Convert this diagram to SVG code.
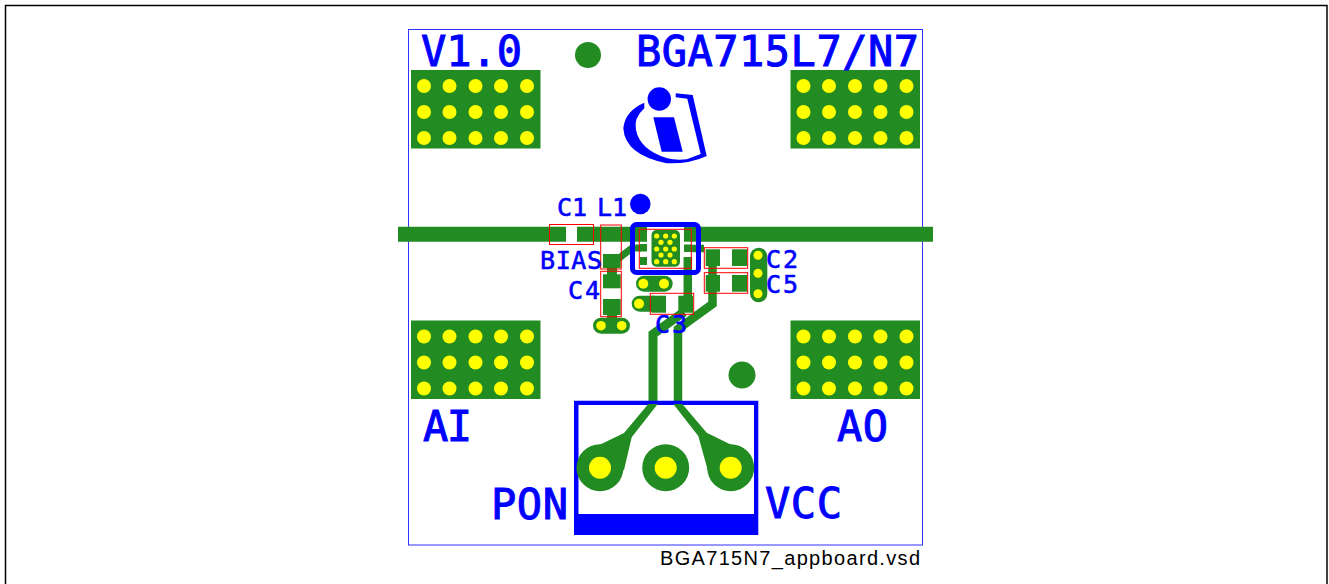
<svg xmlns="http://www.w3.org/2000/svg" xmlns:xlink="http://www.w3.org/1999/xlink" width="1329" height="584" viewBox="0 0 1329 584">
<style>
.g{fill:#228B22}
.y{fill:#FFFF00}
.b{fill:#0000FF}
.r{fill:none;stroke:#FF0000;stroke-width:1}
.tg{stroke:#228B22;fill:none}
.pcb{font-family:"DejaVu Sans Mono","Liberation Mono",monospace;fill:#0000FF;stroke:#0000FF;stroke-width:1}
.big{font-size:42px}
.sm{font-size:25px;stroke-width:.6}
.cap{font-family:"Liberation Sans",Arial,sans-serif;font-size:20px;fill:#000}
</style>
<defs>
<g id="block">
<rect class="g" x="0" y="0" width="129.500" height="78.500"/>
<g class="y">
<circle cx="13" cy="16" r="7"/><circle cx="38.500" cy="16" r="7"/><circle cx="64.500" cy="16" r="7"/><circle cx="90" cy="16" r="7"/><circle cx="116" cy="16" r="7"/>
<circle cx="13" cy="42" r="7"/><circle cx="38.500" cy="42" r="7"/><circle cx="64.500" cy="42" r="7"/><circle cx="90" cy="42" r="7"/><circle cx="116" cy="42" r="7"/>
<circle cx="13" cy="68" r="7"/><circle cx="38.500" cy="68" r="7"/><circle cx="64.500" cy="68" r="7"/><circle cx="90" cy="68" r="7"/><circle cx="116" cy="68" r="7"/>
</g>
</g>
</defs>
<g id="frames">
<path d="M5.500 584V5.500H1327V584" fill="none" stroke="#000" stroke-width="1.500"/>
<rect x="408.500" y="29.500" width="514" height="515.500" fill="#fff" stroke="#3030ff" stroke-width="1"/>
</g>
<g id="pad-blocks">
<use xlink:href="#block" href="#block" x="411" y="70"/>
<use xlink:href="#block" href="#block" x="790.500" y="70"/>
<use xlink:href="#block" href="#block" x="411" y="320.500"/>
<use xlink:href="#block" href="#block" x="790.500" y="320.500"/>
<circle class="g" cx="588" cy="55" r="13"/>
<circle class="g" cx="742" cy="375" r="13.500"/>
</g>
<g id="logo">
<circle class="b" cx="659.300" cy="99" r="11.700"/>
<polygon class="b" points="653.300,117.300 674,117.300 682.700,151.700 661.700,151.700"/>
<path class="b" d="M644.300 102.700Q625 111 623.300 128.300Q625 155 666.700 163.300Q690 164 706.700 156L692.700 95L675.700 93.300V97.300L687.300 98.700L700.700 154L686.700 159.300Q676 160.500 667.300 158.300Q640 150 636 130Q633.300 118.300 644.300 108.300Z"/>
</g>
<g id="connectors">
<path class="g" d="M398 226.700H566V241.700H398ZM577 226.700H647V241.700H577ZM684 226.700H933V241.700H684Z"/>
<rect class="g" x="640" y="244" width="7" height="7.500"/>
<rect class="g" x="640" y="257" width="7" height="8"/>
<rect class="g" x="684" y="244.500" width="8" height="7.500"/>
<rect class="g" x="684" y="257" width="8" height="8"/>
<path class="tg" stroke-width="7" d="M618 259L632 248H641"/>
<path class="tg" stroke-width="7.500" d="M691 248.500H704"/>
<path class="tg" stroke-width="8.500" d="M687.800 257V300"/>
<path class="tg" stroke-width="8.500" d="M712.500 260V304L678 329V404"/>
<path class="tg" stroke-width="9" d="M653 404V334L684 312"/>
<path class="tg" stroke-width="10" d="M612 262V282M612 308V326"/>
</g>
<g id="connector-j1">
<path class="b" d="M574 400.700H758.300V535H574ZM578.500 405V514H754V405Z" fill-rule="evenodd"/>
<polygon class="g" points="648.300,404 657.700,404 631.700,437.300 624,470 600,470 599.300,445 624,433"/>
<polygon class="g" points="673.300,404 682.300,404 706.700,432.700 731.700,445 731,470 707.700,470 698.300,436"/>
<circle class="g" cx="600" cy="467.700" r="23.500"/><circle class="y" cx="600" cy="467.700" r="11"/>
<circle class="g" cx="665.700" cy="467.700" r="23.500"/><circle class="y" cx="665.700" cy="467.700" r="11"/>
<circle class="g" cx="730.700" cy="467.700" r="23.500"/><circle class="y" cx="730.700" cy="467.700" r="11"/>
</g>
<g id="C1"><rect class="r" x="549.500" y="224.500" width="44" height="20"/></g>
<g id="L1"><rect class="g" x="603" y="254" width="17.700" height="14"/><rect class="r" x="600.700" y="225" width="20.600" height="44"/></g>
<g id="C4"><rect class="g" x="603" y="274.300" width="17.700" height="14"/><rect class="g" x="603" y="299" width="17.700" height="16"/><rect class="r" x="600.700" y="271.300" width="20.600" height="45.400"/></g>
<g id="via-pair-bias"><rect class="g" x="593" y="317.700" width="37" height="16" rx="8"/><circle class="y" cx="601" cy="325.700" r="4.800"/><circle class="y" cx="621.700" cy="325.700" r="4.800"/></g>
<g id="via-pair-mid"><rect class="g" x="636" y="275.700" width="36.700" height="16" rx="8"/><circle class="y" cx="643.300" cy="283.700" r="5"/><circle class="y" cx="664" cy="283.700" r="5"/></g>
<g id="C2"><rect class="g" x="705.700" y="249.300" width="14.300" height="16.700"/><rect class="g" x="732" y="249.300" width="15.300" height="16.700"/><rect class="r" x="704.300" y="247.700" width="43.400" height="20.600"/></g>
<g id="C5"><rect class="g" x="705.700" y="275" width="14.300" height="16.700"/><rect class="g" x="732" y="275" width="15.300" height="16.700"/><rect class="r" x="704.300" y="272.700" width="43.400" height="20.600"/></g>
<g id="via-column"><rect class="g" x="750" y="247.700" width="17.300" height="54.600" rx="8.600"/><circle class="y" cx="758" cy="255.300" r="4.500"/><circle class="y" cx="758" cy="273.300" r="4.500"/><circle class="y" cx="758" cy="293.700" r="4.500"/></g>
<g id="C3"><rect class="g" x="631.700" y="295.700" width="30" height="16" rx="8"/><circle class="y" cx="639" cy="303.700" r="5"/><rect class="g" x="651.300" y="295.700" width="14.700" height="17"/><rect class="g" x="678.300" y="295.700" width="14.700" height="17"/><rect class="r" x="650.300" y="293.300" width="43.400" height="21"/></g>
<g id="U1">
<rect class="g" x="651.500" y="230" width="28.500" height="36.700" rx="5"/>
<g class="y">
<circle cx="656.700" cy="236" r="2.600"/><circle cx="665.700" cy="236" r="2.600"/><circle cx="674.300" cy="236" r="2.600"/>
<circle cx="661" cy="242.300" r="2.600"/><circle cx="670" cy="242.300" r="2.600"/>
<circle cx="656.700" cy="249" r="2.600"/><circle cx="665.700" cy="249" r="2.600"/><circle cx="674.300" cy="249" r="2.600"/>
<circle cx="661" cy="255" r="2.600"/><circle cx="670" cy="255" r="2.600"/>
<circle cx="656.700" cy="261.700" r="2.600"/><circle cx="665.700" cy="261.700" r="2.600"/><circle cx="674.300" cy="261.700" r="2.600"/>
</g>
<rect x="632.500" y="224.500" width="66" height="48" rx="4" fill="none" stroke="#0000FF" stroke-width="5"/>
<rect class="r" x="639.300" y="229.300" width="52" height="39"/>
<circle class="b" cx="640.300" cy="204" r="10.300"/>
</g>
<g id="labels">
<text class="pcb big" x="421" y="66" textLength="101">V1.0</text>
<text class="pcb big" x="636" y="66" textLength="283">BGA715L7/N7</text>
<text class="pcb big" x="423" y="441" textLength="49">AI</text>
<text class="pcb big" x="837" y="441" textLength="51">AO</text>
<text class="pcb big" x="491" y="519" textLength="77">PON</text>
<text class="pcb big" x="765" y="518" textLength="77">VCC</text>
<text class="pcb sm" x="557" y="216" textLength="30">C1</text>
<text class="pcb sm" x="597" y="216" textLength="30">L1</text>
<text class="pcb sm" x="540" y="269" textLength="62">BIAS</text>
<text class="pcb sm" x="568" y="299" textLength="32">C4</text>
<text class="pcb sm" x="766" y="268" textLength="32">C2</text>
<text class="pcb sm" x="766" y="293" textLength="32">C5</text>
<text class="pcb sm" x="655" y="333" textLength="32">C3</text>
<text class="cap" x="660" y="565" textLength="260">BGA715N7_appboard.vsd</text>
</g>
</svg>
